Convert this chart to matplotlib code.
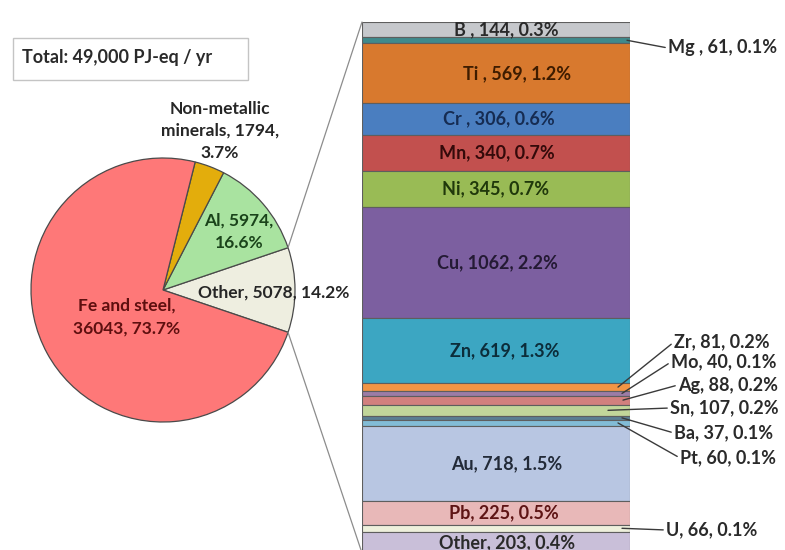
import matplotlib
matplotlib.use("Agg")
import matplotlib.pyplot as plt
from matplotlib.patches import ConnectionPatch, Rectangle
import numpy as np

plt.rcParams['font.family'] = ['Lato', 'DejaVu Sans']

# ---------------- data ----------------
pie_labels = ["Other", "Al", "Non-metallic\nminerals", "Fe and steel"]
pie_values = [5078, 5974, 1794, 36043]
pie_pct_text = ["14.2%", "16.6%", "3.7%", "73.7%"]
pie_colors = ["#eeeee0", "#a9e3a0", "#e3ad0c", "#fe7878"]
pie_text_colors = ["#262626", "#1a431a", "#262626", "#5e0f0f"]

bar_names = ["B", "Mg", "Ti", "Cr", "Mn", "Ni", "Cu", "Zn", "Zr", "Mo", "Ag",
             "Sn", "Ba", "Pt", "Au", "Pb", "U", "Other"]
bar_values = [144, 61, 569, 306, 340, 345, 1062, 619, 81, 40, 88,
              107, 37, 60, 718, 225, 66, 203]
bar_pcts = ["0.3%", "0.1%", "1.2%", "0.6%", "0.7%", "0.7%", "2.2%", "1.3%",
            "0.2%", "0.1%", "0.2%", "0.2%", "0.1%", "0.1%", "1.5%", "0.5%",
            "0.1%", "0.4%"]
bar_label_fmt = {"B": "B , {}, {}", "Mg": "Mg , {}, {}", "Ti": "Ti , {}, {}",
                 "Cr": "Cr , {}, {}"}
bar_colors = ["#c6c8cc", "#3f8a8c", "#d8792e", "#4a7ec0", "#c2504e", "#99bb55",
              "#7c5fa0", "#3ca6c2", "#f29545", "#9c7ca6", "#d2807e",
              "#c2d69a", "#5b7f93", "#82bcd6", "#b8c6e2", "#e8b8b8",
              "#eef0dc", "#c9bfd9"]
bar_text_colors = {"B": "#2a2a2a", "Ti": "#3e1c00", "Cr": "#162c52",
                   "Mn": "#340a0a", "Ni": "#20380b", "Cu": "#241a34",
                   "Zn": "#0c2d3a", "Au": "#222a38", "Pb": "#5e1414",
                   "Other": "#2a2a2a"}
total_text = "Total: 49,000 PJ-eq / yr"

# ---------------- layout (pixels) ----------------
W, H = 785, 550
fig = plt.figure(figsize=(W / 100, H / 100), dpi=100)

def fx(px):
    return px / W

def fy(py):
    return 1 - py / H

# pie axes: centre (163, 290), radius 132 px
cx, cy, r = 163, 290, 132
ax_pie = fig.add_axes([fx(cx - r), fy(cy + r), 2 * r / W, 2 * r / H])
ax_pie.set_axis_off()

other_frac = pie_values[0] / sum(pie_values)
wedges, _ = ax_pie.pie(pie_values, colors=pie_colors, radius=1,
                       startangle=-360 * other_frac / 2, counterclock=True,
                       wedgeprops=dict(edgecolor="#4a4a4a", linewidth=0.9))
ax_pie.set_xlim(-1, 1)
ax_pie.set_ylim(-1, 1)
ax_pie.set_aspect("auto")

fs_pie = 12.5
fs_bar = 13
# pie label positions (pixels)
pie_label_pos = [(198, 293, "left"), (239, 232, "center"),
                 (220, 131, "center"), (127, 317, "center")]
for i, (name, val, pct) in enumerate(zip(pie_labels, pie_values, pie_pct_text)):
    px, py, ha = pie_label_pos[i]
    if i == 0:
        s = f"{name}, {val}, {pct}"
    elif i == 3:
        s = f"{name},\n{val}, {pct}"
    else:
        s = f"{name}, {val},\n{pct}"
    fig.text(fx(px), fy(py), s, ha=ha, va="center", fontsize=fs_pie,
             fontweight="bold", color=pie_text_colors[i], linespacing=1.5,
             multialignment="center")

# bar axes: x 362..630, y 22..553
bx0, bx1, by0, by1 = 362, 630, 22, 553
ax_bar = fig.add_axes([fx(bx0), fy(by1), (bx1 - bx0) / W, (by1 - by0) / H])
total_bar = sum(bar_values)
bottoms = np.concatenate([[0], np.cumsum(bar_values)[:-1]])
ax_bar.bar([0] * len(bar_values), bar_values, bottom=bottoms, width=1,
           color=bar_colors, edgecolor="#5e5e5e", linewidth=0.8)
ax_bar.set_xlim(-0.5, 0.5)
ax_bar.set_ylim(total_bar, 0)
ax_bar.set_axis_off()

inside = ["B", "Ti", "Cr", "Mn", "Ni", "Cu", "Zn", "Au", "Pb", "Other"]
x_shift = {"B": 0.04, "Ti": 0.078, "Cr": 0.01, "Mn": 0.004, "Ni": 0.0,
           "Cu": 0.004, "Zn": 0.033, "Au": 0.04, "Pb": 0.03, "Other": 0.04}
for name, val, pct, b in zip(bar_names, bar_values, bar_pcts, bottoms):
    if name in inside:
        if name in bar_label_fmt:
            s = bar_label_fmt[name].format(val, pct)
        else:
            s = f"{name}, {val}, {pct}"
        yc = b + val / 2
        if name == "B":
            yc = b + val / 2 + 6
        ax_bar.text(x_shift[name], yc, s, ha="center", va="center",
                    fontsize=fs_bar, fontweight="bold",
                    color=bar_text_colors[name], clip_on=False)

# external labels: leader start x (px), text pos (px)
outside = {"Mg": (627, 668, 48), "Zr": (618, 674, 342), "Mo": (622, 671, 362),
           "Ag": (623, 678, 385), "Sn": (608, 670, 408), "Ba": (622, 674, 433),
           "Pt": (618, 680, 458), "U": (622, 666, 530)}
bar_cx = (bx0 + bx1) / 2
for name, val, pct, b in zip(bar_names, bar_values, bar_pcts, bottoms):
    if name in outside:
        lx, tx, ty = outside[name]
        if name in bar_label_fmt:
            s = bar_label_fmt[name].format(val, pct)
        else:
            s = f"{name}, {val}, {pct}"
        ax_bar.annotate(s, xy=((lx - bar_cx) / (bx1 - bx0), b + val / 2),
                        xycoords="data", xytext=(tx, H - ty),
                        textcoords="figure pixels", ha="left", va="center",
                        fontsize=fs_bar, fontweight="bold", color="#2a2a2a",
                        annotation_clip=False,
                        arrowprops=dict(arrowstyle="-", color="#3a3a3a",
                                        lw=1.0, shrinkA=0, shrinkB=0,
                                        relpos=(0, 0.5)))

# connector lines from the "Other" wedge to the bar
w_other = wedges[0]
t1, t2 = np.deg2rad(w_other.theta1), np.deg2rad(w_other.theta2)
con_top = ConnectionPatch(xyA=(np.cos(t2), np.sin(t2)), coordsA=ax_pie.transData,
                          xyB=(-0.5, 0), coordsB=ax_bar.transData,
                          color="#8c8c8c", lw=0.9)
con_bot = ConnectionPatch(xyA=(np.cos(t1), np.sin(t1)), coordsA=ax_pie.transData,
                          xyB=(-0.5, total_bar), coordsB=ax_bar.transData,
                          color="#8c8c8c", lw=0.9)
fig.add_artist(con_top)
fig.add_artist(con_bot)

# total box
fig.add_artist(Rectangle((fx(13), fy(80)), (248 - 13) / W, (80 - 38) / H,
                         transform=fig.transFigure, fill=False,
                         edgecolor="#c4c4c4", lw=1.0))
fig.text(fx(22), fy(58), total_text, ha="left", va="center", fontsize=13,
         fontweight="bold", color="#2a2a2a")

fig.savefig("out.png", dpi=100)
